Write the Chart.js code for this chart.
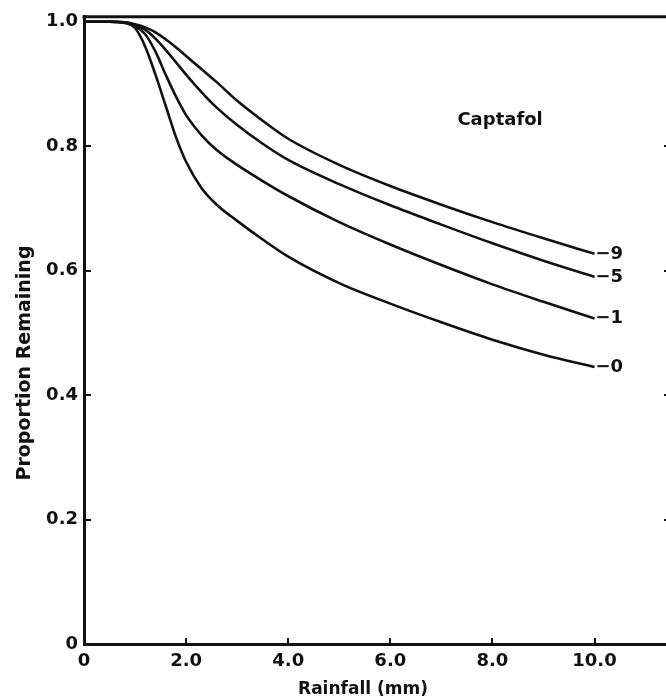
<!DOCTYPE html>
<html>
<head>
<meta charset="utf-8">
<style>
html,body{margin:0;padding:0;background:#fff;}
#wrap{width:666px;height:700px;position:relative;}
</style>
<script src="https://cdn.jsdelivr.net/npm/chart.js@4"></script>
</head>
<body>
<div id="wrap"><canvas id="c" width="666" height="700"></canvas></div>
<script>
// ---- data ----
const rainfall = [0, 0.5, 0.8, 1.0, 1.2, 1.4, 1.6, 1.8, 2.0, 2.3, 2.6, 3.0, 3.5, 4.0, 5.0, 6.0, 7.0, 8.0, 9.0, 10.0];
const series0 = [1.0, 1.0, 0.998, 0.99, 0.96, 0.915, 0.865, 0.815, 0.775, 0.733, 0.706, 0.68, 0.65, 0.6225, 0.58, 0.547, 0.517, 0.489, 0.465, 0.445];
const series1 = [1.0, 1.0, 0.999, 0.993, 0.98, 0.952, 0.915, 0.88, 0.85, 0.818, 0.794, 0.77, 0.744, 0.72, 0.678, 0.642, 0.609, 0.578, 0.55, 0.523];
const series5 = [1.0, 1.0, 0.999, 0.995, 0.987, 0.973, 0.955, 0.935, 0.915, 0.887, 0.862, 0.834, 0.804, 0.778, 0.739, 0.705, 0.674, 0.644, 0.616, 0.59];
const series9 = [1.0, 1.0, 0.999, 0.996, 0.991, 0.983, 0.972, 0.959, 0.945, 0.924, 0.903, 0.873, 0.841, 0.812, 0.77, 0.736, 0.706, 0.678, 0.652, 0.627];
const seriesNames = ['0', '1', '5', '9'];
const xTicks = [0, 2, 4, 6, 8, 10];
const xTickLabels = ['0', '2.0', '4.0', '6.0', '8.0', '10.0'];
const yTicks = [0, 0.2, 0.4, 0.6, 0.8, 1.0];
const yTickLabels = ['0', '0.2', '0.4', '0.6', '0.8', '1.0'];
const chartTitle = 'Captafol';
const xTitle = 'Rainfall (mm)';
const yTitle = 'Proportion Remaining';

const INK = '#111';
const FONT = '"DejaVu Sans", sans-serif';

function pts(ys) { return rainfall.map((x, i) => ({x: x, y: ys[i]})); }
const allSeries = [series0, series1, series5, series9];

const datasets = allSeries.map((s, i) => ({
  label: seriesNames[i],
  data: pts(s),
  borderColor: INK,
  borderWidth: 2.6,
  pointRadius: 0,
  fill: false,
  cubicInterpolationMode: 'monotone'
}));

const decorPlugin = {
  id: 'decor',
  afterDatasetsDraw(chart) {
    const {ctx, chartArea, scales} = chart;
    const {left, right, top, bottom} = chartArea;
    const x = scales.x, y = scales.y;
    ctx.save();
    ctx.strokeStyle = INK;
    ctx.lineCap = 'butt';
    // top frame line
    ctx.lineWidth = 3;
    ctx.beginPath();
    ctx.moveTo(left - 1.5, top);
    ctx.lineTo(right, top);
    ctx.stroke();
    // inward tick marks
    ctx.lineWidth = 2;
    xTicks.forEach(v => {
      if (v === 0) return;
      const px = Math.round(x.getPixelForValue(v));
      ctx.beginPath();
      ctx.moveTo(px, bottom);
      ctx.lineTo(px, bottom - 6);
      ctx.stroke();
    });
    yTicks.forEach(v => {
      if (v === 0 || v >= 1) return;
      const py = Math.round(y.getPixelForValue(v));
      ctx.beginPath();
      ctx.moveTo(left, py);
      ctx.lineTo(left + 7, py);
      ctx.stroke();
      ctx.beginPath();
      ctx.moveTo(right - 2, py);
      ctx.lineTo(right, py);
      ctx.stroke();
    });
    // series labels at line ends
    ctx.fillStyle = INK;
    ctx.font = 'bold 18px ' + FONT;
    ctx.textAlign = 'left';
    ctx.textBaseline = 'middle';
    chart.data.datasets.forEach((ds, i) => {
      const meta = chart.getDatasetMeta(i);
      const last = meta.data[meta.data.length - 1];
      ctx.fillText('\u2212' + ds.label, last.x + 1, last.y);
    });
    // chart annotation
    ctx.textAlign = 'center';
    ctx.font = 'bold 18px ' + FONT;
    ctx.fillText(chartTitle, x.getPixelForValue(8.15), y.getPixelForValue(0.842));
    // axis titles
    ctx.font = 'bold 17px ' + FONT;
    ctx.fillText(xTitle, 363, 690);
    ctx.save();
    ctx.translate(25, 363);
    ctx.rotate(-Math.PI / 2);
    ctx.font = 'bold 19px ' + FONT;
    ctx.fillText(yTitle, 0, 0);
    ctx.restore();
    ctx.restore();
  }
};

new Chart(document.getElementById('c'), {
  type: 'line',
  data: {datasets: datasets},
  options: {
    responsive: false,
    animation: false,
    events: [],
    layout: {padding: {top: 14, right: 0, bottom: 0, left: 0}},
    plugins: {legend: {display: false}, tooltip: {enabled: false}, title: {display: false}},
    scales: {
      x: {
        type: 'linear',
        min: 0,
        max: 11.4,
        afterFit(s) { s.height = 56; },
        afterBuildTicks(s) { s.ticks = xTicks.map(v => ({value: v})); },
        grid: {display: false, drawTicks: false},
        border: {display: true, color: INK, width: 3},
        ticks: {
          padding: 7,
          color: INK,
          font: {family: FONT, size: 18, weight: 'bold'},
          maxRotation: 0,
          autoSkip: false,
          callback: (v) => { const i = xTicks.indexOf(v); return i >= 0 ? xTickLabels[i] : ''; }
        }
      },
      y: {
        type: 'linear',
        min: 0,
        max: 1.008,
        afterFit(s) { s.width = 84; },
        afterBuildTicks(s) { s.ticks = yTicks.map(v => ({value: v})); },
        grid: {display: false, drawTicks: false},
        border: {display: true, color: INK, width: 3},
        ticks: {
          padding: 6,
          color: INK,
          font: {family: FONT, size: 18, weight: 'bold'},
          autoSkip: false,
          callback: (v) => { const i = yTicks.indexOf(v); return i >= 0 ? yTickLabels[i] : ''; }
        }
      }
    }
  },
  plugins: [decorPlugin]
});
</script>
</body>
</html>
